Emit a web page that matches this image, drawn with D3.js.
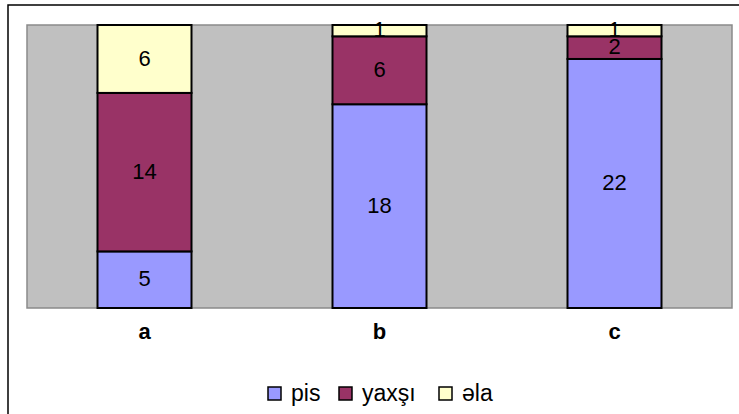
<!DOCTYPE html>
<html>
<head>
<meta charset="utf-8">
<script src="https://cdn.jsdelivr.net/npm/d3@7"></script>
<style>
  html, body { margin: 0; padding: 0; background: #fff; }
  svg { display: block; font-family: "Liberation Sans", Arial, sans-serif; }
</style>
</head>
<body>
<svg id="chart" width="739" height="414"></svg>
<script>
// Categories and stacked series values
const categories = ["a", "b", "c"];
const seriesNames = ["pis", "yaxşı", "əla"];
const pis   = [5, 18, 22];
const yaxsi = [14, 6, 2];
const ela   = [6, 1, 1];
const seriesColors = ["#9999FF", "#993366", "#FFFFCC"];

const rows = categories.map((c, i) => ({ cat: c, "pis": pis[i], "yaxşı": yaxsi[i], "əla": ela[i] }));

const svg = d3.select("#chart");
const W = 739, H = 414;

// Outer chart frame (right and bottom edges run past the view)
svg.append("rect")
  .attr("x", 8).attr("y", 5)
  .attr("width", W + 20).attr("height", H + 20)
  .attr("fill", "#fff")
  .attr("stroke", "#000").attr("stroke-width", 1.5);

const plot = { left: 27, right: 732, top: 25, bottom: 308 };

const x = d3.scaleBand()
  .domain(categories)
  .range([plot.left, plot.right])
  .paddingInner(0.6)
  .paddingOuter(0.3);

const y = d3.scaleLinear()
  .domain([0, 25])
  .range([plot.bottom, plot.top]);

// Plot area background
svg.append("rect")
  .attr("x", plot.left).attr("y", plot.top)
  .attr("width", plot.right - plot.left)
  .attr("height", plot.bottom - plot.top)
  .attr("fill", "#C0C0C0")
  .attr("stroke", "#8a8a8a").attr("stroke-width", 1.5);

const stack = d3.stack().keys(seriesNames);
const layers = stack(rows);
const color = d3.scaleOrdinal().domain(seriesNames).range(seriesColors);

const g = svg.append("g");
layers.forEach(layer => {
  const lg = g.append("g");
  lg.selectAll("rect")
    .data(layer)
    .join("rect")
    .attr("x", d => x(d.data.cat))
    .attr("width", x.bandwidth())
    .attr("y", d => y(d[1]))
    .attr("height", d => y(d[0]) - y(d[1]))
    .attr("fill", color(layer.key))
    .attr("stroke", "#000")
    .attr("stroke-width", 2);
});

// Value labels centred in each segment
layers.forEach(layer => {
  g.append("g").selectAll("text")
    .data(layer)
    .join("text")
    .attr("x", d => x(d.data.cat) + x.bandwidth() / 2)
    .attr("y", d => (y(d[0]) + y(d[1])) / 2)
    .attr("dy", "0.3em")
    .attr("text-anchor", "middle")
    .attr("font-size", 22)
    .attr("fill", "#000")
    .text(d => d[1] - d[0]);
});

// Category axis
const xAxis = d3.axisBottom(x).tickSize(0).tickPadding(0);
const ax = svg.append("g")
  .attr("transform", `translate(0,${plot.bottom})`)
  .call(xAxis);
ax.select(".domain").remove();
ax.selectAll("text")
  .attr("y", 31)
  .attr("dy", 0)
  .attr("font-family", "Liberation Sans, Arial, sans-serif")
  .attr("font-size", 22)
  .attr("font-weight", "bold")
  .attr("fill", "#000");

// Legend
const legend = svg.append("g").attr("transform", "translate(268,387)");
const offsets = [0, 71, 171];
seriesNames.forEach((name, i) => {
  const item = legend.append("g").attr("transform", `translate(${offsets[i]},0)`);
  item.append("rect")
    .attr("x", 0).attr("y", 0)
    .attr("width", 13).attr("height", 13)
    .attr("fill", seriesColors[i])
    .attr("stroke", "#000").attr("stroke-width", 1.5);
  item.append("text")
    .attr("x", 23).attr("y", 14)
    .attr("font-size", 23)
    .attr("fill", "#000")
    .text(name);
});
</script>
</body>
</html>
